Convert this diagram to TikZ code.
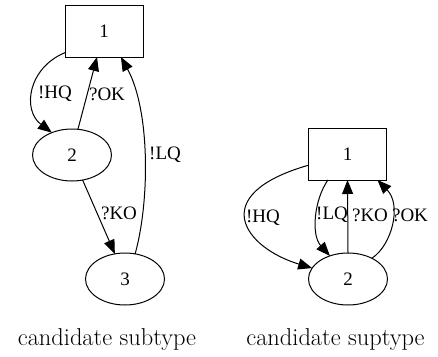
\documentclass[tikz,border=0pt]{standalone}
\usepackage{fontspec}
\newfontfamily\gvfont{Liberation Serif}
\usetikzlibrary{arrows.meta,shapes.geometric}
\begin{document}
\begin{tikzpicture}[x=1pt,y=-1pt,
  every node/.style={font=\gvfont\fontsize{19}{21}\selectfont},
  boxnode/.style={draw,line width=1pt,rectangle,minimum width=78pt,minimum height=52pt,inner sep=0pt,outer sep=0pt},
  ellnode/.style={draw,line width=1pt,ellipse,minimum width=79pt,minimum height=52pt,inner sep=0pt,outer sep=0pt},
  edge/.style={line width=1pt,-{Triangle[length=14pt,width=11pt]}},
  lbl/.style={inner sep=0pt},
  caption/.style={font=\fontsize{24.4}{29}\selectfont,inner sep=0pt,anchor=base}]
\useasboundingbox (0,0) rectangle (438,356);
% left graph
\node[boxnode] (L1) at (104,31) {1};
\node[ellnode] (L2) at (72,155) {2};
\node[ellnode] (L3) at (125,279) {3};
\draw[edge] (L1.209) .. controls (28,68) and (22,110) .. (L2.132);
\draw[edge] (L2.77) -- (L1.255);
\draw[edge] (L3.68) .. controls (150,200) and (150,110) .. (L1.303);
\draw[edge] (L2.293) -- (L3.112);
\node[lbl] (lHQ) at (55,94) {!HQ};
\node[lbl] (lOK) at (107,94) {?OK};
\node[lbl] (lLQ) at (165,155) {!LQ};
\node[lbl] (lKO) at (119,213) {?KO};
% right graph
\node[boxnode] (R1) at (347.5,154) {1};
\node[ellnode] (R2) at (348,279) {2};
\draw[edge] (R1.196) .. controls (205,195) and (245,248) .. (R2.163);
\draw[edge] (R1.233) .. controls (314,200) and (311,235) .. (R2.128);
\draw[edge] (R2.north) -- (R1.south);
\draw[edge] (R2.41) .. controls (392,245) and (402,205) .. (R1.319);
\node[lbl] (rHQ) at (263,218) {!HQ};
\node[lbl] (rLQ) at (332,215) {!LQ};
\node[lbl] (rKO) at (370,215) {?KO};
\node[lbl] (rOK) at (410,215) {?OK};
% captions
\node[caption] (capL) at (107,345) {candidate subtype};
\node[caption] (capR) at (335.5,345) {candidate suptype};
\end{tikzpicture}
\end{document}
